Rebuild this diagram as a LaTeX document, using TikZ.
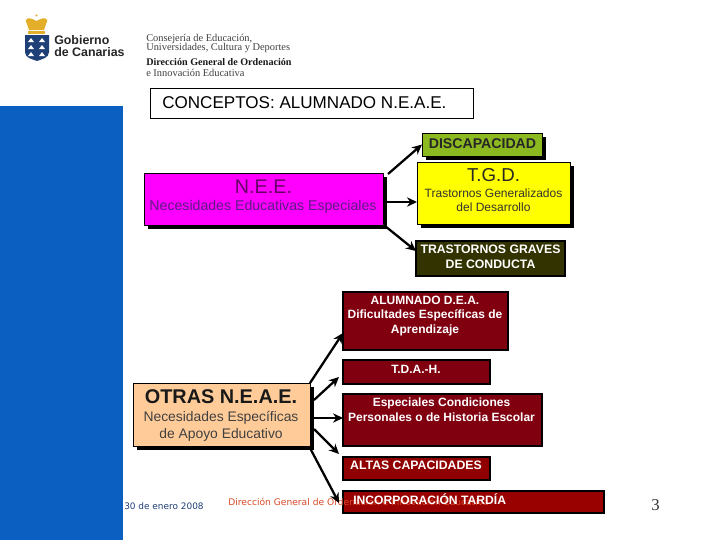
\documentclass[tikz,border=0pt]{standalone}
\usepackage{fontspec}
\setmainfont{Liberation Sans}
\newfontfamily\serifx{Liberation Serif}
\newfontfamily\footx{DejaVu Sans}
\usetikzlibrary{arrows.meta,shadows}
\definecolor{blueband}{HTML}{0B5FC0}
\definecolor{navy}{HTML}{1F3F77}
\definecolor{gold}{HTML}{E3AE2A}
\definecolor{olivegreen}{HTML}{8CB820}
\definecolor{darkolive}{HTML}{333300}
\definecolor{maroon}{HTML}{800010}
\definecolor{maroonb}{HTML}{900000}
\definecolor{maroonc}{HTML}{990000}
\definecolor{peach}{HTML}{FFCC99}
\definecolor{pureyellow}{HTML}{FFFF00}
\definecolor{puremagenta}{HTML}{FF00FF}
\definecolor{needark}{HTML}{660066}
\definecolor{neesub}{HTML}{5F1A85}
\definecolor{dirred}{HTML}{D84A28}
\newcommand{\fsz}[1]{\fontsize{#1}{#1}\selectfont}
\newcommand{\bx}[7][]{%
  \pgfmathsetmacro{\cxx}{(#4+#6)/2}\pgfmathsetmacro{\cyy}{(#5+#7)/2}%
  \pgfmathsetmacro{\wdd}{(#6-#4)*0.75}\pgfmathsetmacro{\htt}{(#7-#5)*0.75}%
  \node[#2,minimum width=\wdd pt,minimum height=\htt pt,#1] (#3) at (\cxx,\cyy) {};}
\tikzset{
  x=0.75pt,y=-0.75pt,
  base/.style={draw=black,inner sep=0pt,outer sep=0pt,rectangle},
  shad/.style={base,line width=0.5pt,drop shadow={shadow xshift=3.2pt,shadow yshift=-3.2pt,fill=black,opacity=1}},
  dark/.style={base,line width=2.2pt},
  txt/.style={inner sep=0pt,align=center,anchor=center},
  wht/.style={txt,text=white,font=\bfseries\fsz{9}},
  conn/.style={line width=1.7pt,-{Stealth[length=7.5pt,width=7pt]},shorten >=0pt},
  headl/.style={inner sep=0pt,anchor=west,text=black!75,font=\serifx\fsz{7.8}}
}
\begin{document}
\begin{tikzpicture}
\useasboundingbox (0,0) rectangle (720,540);
\fill[white] (0,0) rectangle (720,540);
\fill[blueband] (0,106) rectangle (123,540);
% logo
\fill[gold] (27,24) .. controls (23,17) and (30,17) .. (36.5,21) .. controls (43,17) and (50,17) .. (46,24) -- (44,30) -- (29,30) -- cycle;
\fill[gold] (36.5,15.5) circle (1.2);
\fill[gold] (28,31) rectangle (45,33.5);
\fill[navy] (25,35) -- (49,35) -- (49,52) .. controls (49,58) and (42,59) .. (37,61) .. controls (32,59) and (25,58) .. (25,52) -- cycle;
\foreach \a/\b in {31/40,42/40,31/47,42/47,31/54,42/54}{\fill[white] (\a-3,\b+2) -- (\a,\b-2) -- (\a+3,\b+2) -- cycle;}
\node[inner sep=0pt,anchor=west,font=\bfseries\fsz{9.3},text=black!85] (g1) at (54,40.5) {Gobierno};
\node[inner sep=0pt,anchor=west,font=\bfseries\fsz{9.3},text=black!85] (g2) at (54,52) {de Canarias};
\node[headl] (h1) at (146,38.5) {Consejería de Educación,};
\node[headl] (h2) at (146,48.5) {Universidades, Cultura y Deportes};
\node[headl,text=black!90,font=\serifx\bfseries\fsz{7.6}] (h3) at (146,62) {Dirección General de Ordenación};
\node[headl] (h4) at (146,72.5) {e Innovación Educativa};
% title
\bx{base,line width=0.6pt,fill=white}{title}{150}{88}{473}{118}
\node[inner sep=0pt,anchor=west,font=\fsz{12.8}] (titlet) at (162,102.5) {CONCEPTOS: ALUMNADO N.E.A.E.};
% footer
\node[inner sep=0pt,anchor=west,font=\footx\fsz{6.7},text=navy] (date) at (124,506) {30 de enero 2008};
\node[inner sep=0pt,font=\serifx\fsz{12.5},text=black!80] (num) at (655.5,505) {3};
% upper group
\bx[fill=olivegreen]{shad}{disc}{422}{133}{542}{156}
\node[txt,font=\bfseries\fsz{10.6},text=black!85] (disct) at (482.5,144) {DISCAPACIDAD};
\bx[fill=pureyellow]{shad}{tgd}{417}{162}{570}{224}
\node[txt,font=\fsz{14},text=black!85] (tgdt) at (493.5,175) {T.G.D.};
\node[txt,font=\fsz{9},text=black!80] (tgds) at (493.5,200) {Trastornos Generalizados\\[1.7pt]del Desarrollo};
\bx[fill=puremagenta]{shad}{nee}{144}{173}{383}{225}
\node[txt,font=\fsz{14.8},text=needark] (neet) at (263.5,187) {N.E.E.};
\node[txt,font=\fsz{10.6},text=neesub] (nees) at (263,207) {Necesidades Educativas Especiales};
\bx[fill=darkolive]{dark}{tgc}{416}{241}{565}{276}
\node[wht,font=\bfseries\fsz{9.2}] (tgct) at (490.5,257) {TRASTORNOS GRAVES\\[2.2pt]DE CONDUCTA};
\coordinate (a1) at (388,174);
\coordinate (a3) at (385,226); \coordinate (a3e) at (416,251);
\draw[conn] (a1) -- (disc.west);
\coordinate (a2) at (386,202);
\draw[conn] (a2) -- (a2-|tgd.west);
\draw[conn] (a3) -- (a3e);
% lower group
\bx[fill=maroon]{dark}{dea}{343}{292}{508}{350}
\node[wht] (deat) at (425,316) {ALUMNADO D.E.A.\\[2pt]Dificultades Específicas de\\[2pt]Aprendizaje};
\bx[fill=maroon]{dark}{tdah}{343}{360}{490}{384}
\node[wht] (tdaht) at (416,369) {T.D.A.-H.};
\bx[fill=maroon]{dark}{esp}{343}{394}{542}{446}
\node[wht] (espt) at (441.5,410) {Especiales Condiciones\\[2pt]Personales o de Historia Escolar};
\bx[fill=maroonb]{dark}{alt}{343}{457}{490}{480}
\node[wht,font=\bfseries\fsz{9.2}] (altt) at (416,465.5) {ALTAS CAPACIDADES};
\bx[fill=maroonc]{dark}{inc}{343}{491}{604}{513}
\node[inner sep=0pt,anchor=west,font=\footx\fsz{6.85},text=dirred] (dir) at (228,501.5) {Dirección General de Ordenación e Innovación Educativa};
\node[wht,anchor=west,font=\bfseries\fsz{9.1}] (inct) at (353,499.5) {INCORPORACIÓN TARDÍA};
\bx[fill=peach]{shad}{otr}{133}{383}{310}{446}
\node[txt,font=\bfseries\fsz{14.9},text=black!90] (otrt) at (221,397) {OTRAS N.E.A.E.};
\node[txt,font=\fsz{10.4},text=black!75] (otrs) at (221,426) {Necesidades Específicas\\[2.4pt]de Apoyo Educativo};
\coordinate (b2) at (314,400); \coordinate (b2e) at (339,377);
\coordinate (b3) at (314,418); \coordinate (b4) at (314,429); \coordinate (b4e) at (339,454);
\coordinate (b5) at (310,448); \coordinate (b5e) at (339,503);
\coordinate (b1e) at (343,333);
\draw[conn] (otr.north east) -- (b1e);
\draw[conn] (b2) -- (b2e);
\draw[conn] (b3) -- (b3-|esp.west);
\draw[conn] (b4) -- (b4e);
\draw[conn] (b5) -- (b5e);
\end{tikzpicture}
\end{document}
